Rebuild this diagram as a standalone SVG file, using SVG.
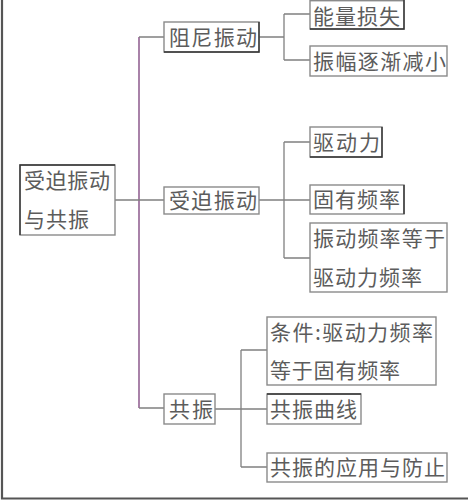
<svg xmlns="http://www.w3.org/2000/svg" width="468" height="500" viewBox="0 0 468 500">
<style>
.bx{fill:#fff;stroke:#8a8a8a;stroke-width:1.4}
.sh{fill:none;stroke:#333;stroke-width:1.4}
.t{font-family:"Noto Sans CJK SC","Noto Sans",sans-serif;font-size:21px;fill:#5c5c5c}
.c{fill:none;stroke:#808080;stroke-width:1.3}
.m{fill:none;stroke:#7a3f7a;stroke-width:1.3}
</style>
<rect width="468" height="500" fill="#fff"/>
<path d="M2,0 V498.5 H468" fill="none" stroke="#555" stroke-width="2.2"/>
<g id="connectors">
<path class="m" d="M139,37 V408"/>
<path class="c" d="M139,37 H164 M115,200 H164 M139,408 H164"/>
<path class="c" d="M259,37 H284 M284,14 V60 M284,14 H310 M284,60 H310"/>
<path class="c" d="M259,200 H310 M284,142 V258 M284,142 H310 M284,258 H310"/>
<path class="c" d="M215,409 H267 M241,350 V467 M241,350 H267 M241,467 H267"/>
</g>
<g id="root">
<rect class="bx" x="20" y="165" width="95" height="70"/>
<path class="sh" d="M20,235 V165 H115"/>
<text class="t" x="24" y="188" textLength="86" lengthAdjust="spacing">受迫振动</text>
<text class="t" x="24" y="227" textLength="65" lengthAdjust="spacing">与共振</text>
</g>
<g id="n-zuni">
<rect class="bx" x="164" y="22" width="95" height="30"/>
<path class="sh" d="M259,22 V52 H164"/>
<text class="t" x="169" y="45" textLength="88" lengthAdjust="spacing">阻尼振动</text>
</g>
<g id="n-nengliang">
<rect class="bx" x="310" y="0.7" width="94" height="28.3"/>
<path class="sh" d="M404,0 V29 H310"/>
<text class="t" x="313" y="23.5" textLength="87" lengthAdjust="spacing">能量损失</text>
</g>
<g id="n-zhenfu">
<rect class="bx" x="310" y="46" width="137" height="30"/>
<text class="t" x="313" y="69" textLength="133" lengthAdjust="spacing">振幅逐渐减小</text>
</g>
<g id="n-shoupo">
<rect class="bx" x="164" y="187" width="95" height="27"/>
<text class="t" x="169" y="208" textLength="88" lengthAdjust="spacing">受迫振动</text>
</g>
<g id="n-qudongli">
<rect class="bx" x="310" y="127" width="72" height="30"/>
<path class="sh" d="M382,127 V157 H310"/>
<text class="t" x="313" y="150" textLength="67" lengthAdjust="spacing">驱动力</text>
</g>
<g id="n-guyou">
<rect class="bx" x="310" y="185" width="94" height="29"/>
<path class="sh" d="M404,185 V214"/>
<text class="t" x="313" y="207" textLength="87" lengthAdjust="spacing">固有频率</text>
</g>
<g id="n-zhendong">
<rect class="bx" x="310" y="223" width="137" height="69"/>
<text class="t" x="313" y="246" textLength="132" lengthAdjust="spacing">振动频率等于</text>
<text class="t" x="313" y="285" textLength="109" lengthAdjust="spacing">驱动力频率</text>
</g>
<g id="n-gongzhen">
<rect class="bx" x="164" y="394" width="51" height="30"/>
<text class="t" x="169" y="417" textLength="44" lengthAdjust="spacing">共振</text>
</g>
<g id="n-tiaojian">
<rect class="bx" x="267" y="317" width="169" height="68"/>
<text class="t" x="270" y="340" textLength="163" lengthAdjust="spacing">条件:驱动力频率</text>
<text class="t" x="270" y="378" textLength="130" lengthAdjust="spacing">等于固有频率</text>
</g>
<g id="n-quxian">
<rect class="bx" x="267" y="394" width="94" height="30"/>
<path class="sh" d="M267,394 H361"/>
<text class="t" x="270" y="417" textLength="87" lengthAdjust="spacing">共振曲线</text>
</g>
<g id="n-yingyong">
<rect class="bx" x="267" y="453" width="180" height="29"/>
<text class="t" x="270" y="475" textLength="175" lengthAdjust="spacing">共振的应用与防止</text>
</g>
</svg>
